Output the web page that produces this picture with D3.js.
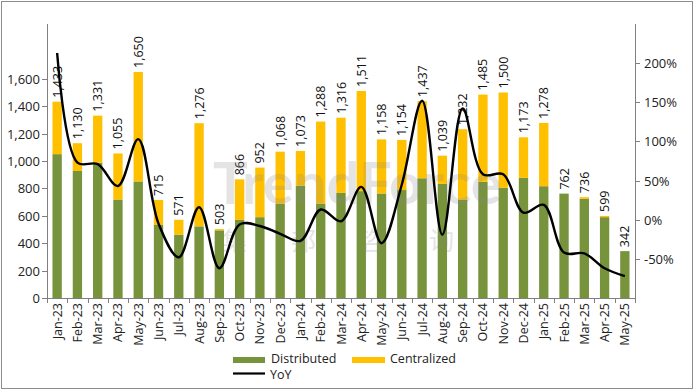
<!DOCTYPE html>
<html><head><meta charset="utf-8">
<script src="https://cdn.jsdelivr.net/npm/d3@7"></script>
<style>
html,body{margin:0;padding:0;background:#fff;}
svg{display:block;font-family:"Open Sans","Noto Sans",sans-serif;}
</style></head>
<body><svg id="c" width="694" height="390"></svg>
<script>
const months = ["Jan-23","Feb-23","Mar-23","Apr-23","May-23","Jun-23","Jul-23","Aug-23","Sep-23","Oct-23","Nov-23","Dec-23",
  "Jan-24","Feb-24","Mar-24","Apr-24","May-24","Jun-24","Jul-24","Aug-24","Sep-24","Oct-24","Nov-24","Dec-24",
  "Jan-25","Feb-25","Mar-25","Apr-25","May-25"];
const totals = [1433,1130,1331,1055,1650,715,571,1276,503,866,952,1068,1073,1288,1316,1511,1158,1154,1437,1039,1232,1485,1500,1173,1278,762,736,599,342];
const distributed = [1050,927,988,719,851,533,462,523,494,570,590,689,820,689,767,780,763,788,874,833,719,848,804,877,816,762,724,590,342];
const yoy = [213,73,71,43,103,-5,-48,16,-62,-6,-8,-18,-27,13,-2,42,-30,45,152,-19,142,58,58,9,19,-42,-43,-62,-72];
const leftTicks = [0,200,400,600,800,1000,1200,1400,1600];
const rightTicks = [-50,0,50,100,150,200];

const svg = d3.select("#c");
const m = {l:47, r:635, t:24, b:298};
const x = d3.scaleBand().domain(months).range([m.l, m.r]).paddingInner(0.54).paddingOuter(0.27);
const yL = d3.scaleLinear().domain([0,2000]).range([m.b, m.t]);
const yR = d3.scaleLinear().domain([-100,250]).range([m.b, m.t]);
const green = "#77933C", yellow = "#FFC000";
const fmt = d3.format(",");

// outer border
svg.append("rect").attr("x",1.5).attr("y",1.5).attr("width",691).attr("height",387)
  .attr("fill","none").attr("stroke","#8c8c8c").attr("stroke-width",1);

// bars
const centralized = totals.map((t,i)=>t-distributed[i]);
const g = svg.append("g");
g.selectAll("rect.d").data(months).join("rect").attr("class","d")
  .attr("x",d=>x(d)).attr("width",x.bandwidth())
  .attr("y",(d,i)=>yL(distributed[i])).attr("height",(d,i)=>yL(0)-yL(distributed[i]))
  .attr("fill",green);
g.selectAll("rect.c").data(months).join("rect").attr("class","c")
  .attr("x",d=>x(d)).attr("width",x.bandwidth())
  .attr("y",(d,i)=>yL(totals[i])).attr("height",(d,i)=>Math.max(0,yL(distributed[i])-yL(totals[i])))
  .attr("fill",yellow);

// watermark
const wm = svg.append("g").attr("opacity",0.22).attr("fill","#8a8a8a");
wm.append("text").attr("x",213).attr("y",204).attr("font-size",58).attr("font-weight","bold")
  .attr("font-family","Lato, 'Open Sans', sans-serif").text("TrendForce");
wm.append("text").attr("x",222).attr("y",250).attr("font-size",25)
  .attr("font-family","'Noto Sans CJK SC', sans-serif").attr("letter-spacing",44).text("集邦咨询");

// value labels
g.selectAll("text.v").data(months).join("text").attr("class","v")
  .attr("transform",(d,i)=>`translate(${x(d)+x.bandwidth()/2+4.5},${yL(totals[i])-4}) rotate(-90)`)
  .attr("font-size",12.5).attr("fill","#111").text((d,i)=>fmt(totals[i]));

// YoY line
const line = d3.line().x((d,i)=>x(months[i])+x.bandwidth()/2).y(d=>yR(d)).curve(d3.curveCatmullRom.alpha(0.5));
svg.append("path").datum(yoy).attr("d",line).attr("fill","none").attr("stroke","#000").attr("stroke-width",2.4);

// axes
const axStroke = "#808080";
svg.append("line").attr("x1",m.l+0.5).attr("x2",m.l+0.5).attr("y1",m.t).attr("y2",m.b).attr("stroke",axStroke);
svg.append("line").attr("x1",m.r+0.5).attr("x2",m.r+0.5).attr("y1",m.t).attr("y2",m.b).attr("stroke",axStroke);
svg.append("line").attr("x1",m.l).attr("x2",m.r).attr("y1",m.b+0.5).attr("y2",m.b+0.5).attr("stroke",axStroke);

const la = svg.append("g").selectAll("g").data(leftTicks).join("g").attr("transform",d=>`translate(0,${Math.round(yL(d))+0.5})`);
la.append("line").attr("x1",m.l-5).attr("x2",m.l).attr("stroke",axStroke);
la.append("text").attr("x",m.l-7).attr("dy","0.35em").attr("text-anchor","end").attr("font-size",13).attr("fill","#222").text(d=>fmt(d));

const ra = svg.append("g").selectAll("g").data(rightTicks).join("g").attr("transform",d=>`translate(0,${Math.round(yR(d))+0.5})`);
ra.append("line").attr("x1",m.r).attr("x2",m.r+5).attr("stroke",axStroke);
ra.append("text").attr("x",m.r+9).attr("dy","0.35em").attr("font-size",13).attr("fill","#222").text(d=>d+"%");

// x ticks between categories
const step = x.step();
const xt = d3.range(months.length+1).map(i=>m.l + i*((m.r-m.l)/months.length));
svg.append("g").selectAll("line").data(xt).join("line")
  .attr("x1",d=>Math.round(d)+0.5).attr("x2",d=>Math.round(d)+0.5).attr("y1",m.b).attr("y2",m.b+5).attr("stroke",axStroke);
svg.append("g").selectAll("text").data(months).join("text")
  .attr("transform",d=>`translate(${x(d)+x.bandwidth()/2+4.5},${m.b+5}) rotate(-90)`)
  .attr("text-anchor","end").attr("font-size",12.5).attr("fill","#222").text(d=>d);

// legend
const lg = svg.append("g");
lg.append("rect").attr("x",233).attr("y",357).attr("width",32).attr("height",6).attr("fill",green);
lg.append("text").attr("x",271).attr("y",363).attr("font-size",12.5).attr("fill","#222").text("Distributed");
lg.append("rect").attr("x",352).attr("y",357).attr("width",33).attr("height",6).attr("fill",yellow);
lg.append("text").attr("x",390).attr("y",363).attr("font-size",12.5).attr("fill","#222").text("Centralized");
lg.append("line").attr("x1",233).attr("x2",265).attr("y1",373.5).attr("y2",373.5).attr("stroke","#000").attr("stroke-width",2.2);
lg.append("text").attr("x",270).attr("y",379).attr("font-size",12.5).attr("fill","#222").text("YoY");
</script></body></html>
